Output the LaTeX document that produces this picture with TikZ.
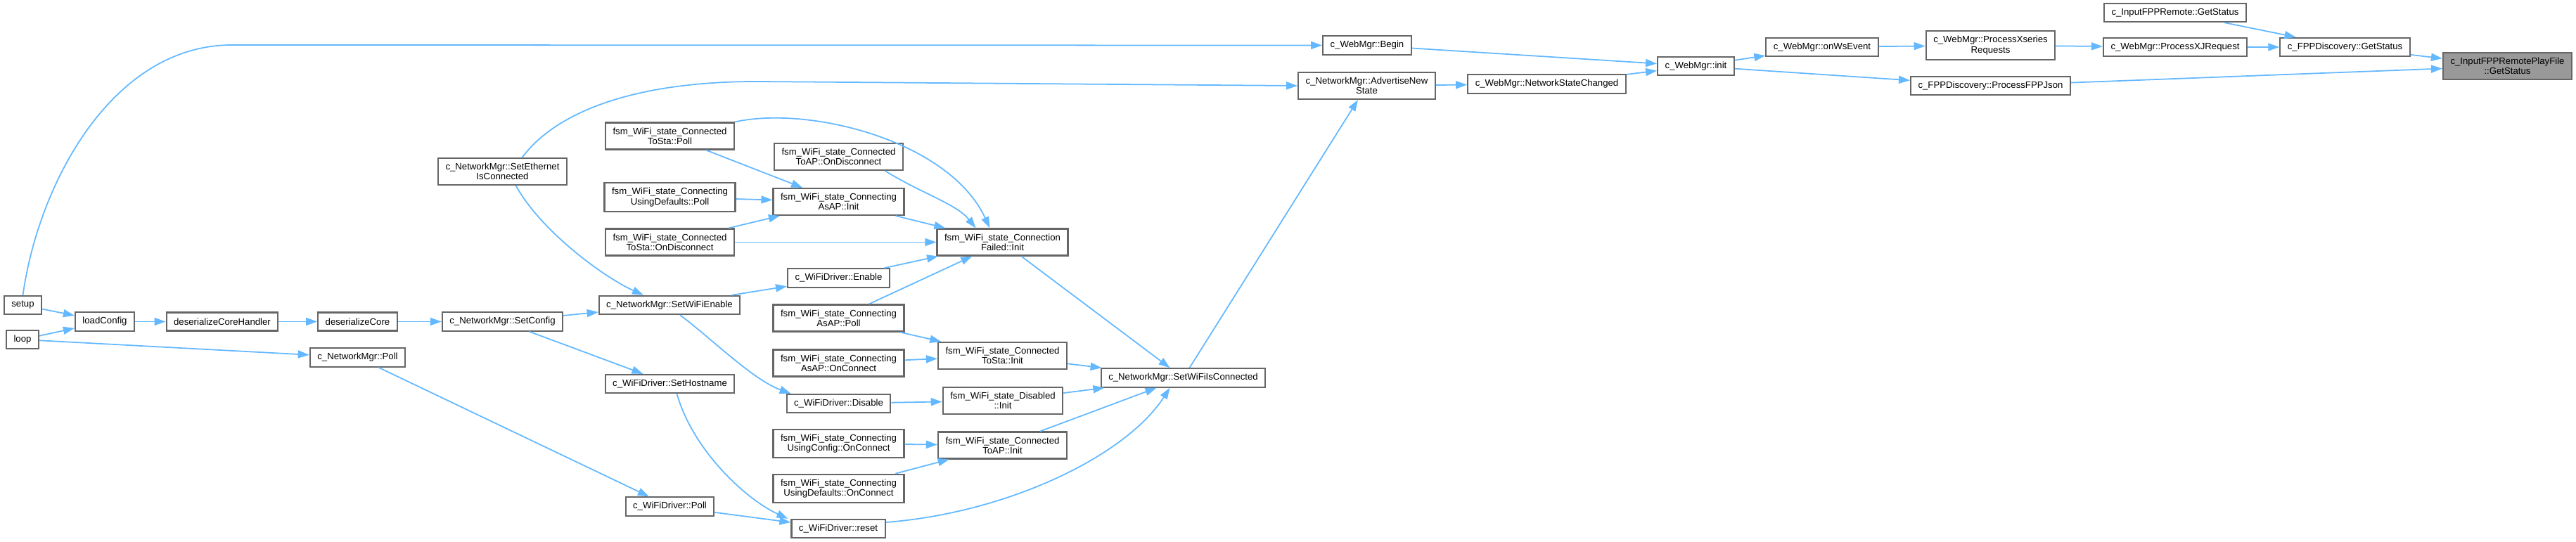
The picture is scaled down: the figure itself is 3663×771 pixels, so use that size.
\documentclass[tikz,border=0pt]{standalone}
\usepackage{fontspec}
\newfontfamily\graphfont{Liberation Sans}
\usepackage{tikz}
\usetikzlibrary{arrows.meta}
\definecolor{edgeblue}{HTML}{63B8FF}
\definecolor{boxgray}{HTML}{666666}
\definecolor{hitgray}{HTML}{999999}
\tikzset{
  fn/.style={draw=boxgray, line width=0.6pt, fill=white, inner xsep=0.105cm, inner ysep=0.07cm,
    minimum height=0.26cm, align=center, font={\graphfont\fontsize{3.75}{4.05}\selectfont}},
  hit/.style={fn, fill=hitgray},
  call/.style={draw=edgeblue, line width=0.5pt, -{Triangle[length=0.16cm,width=0.11cm]}}
}

\begin{document}
\begin{tikzpicture}[x=0.01cm,y=-0.01cm]
\useasboundingbox (0,0) rectangle (3663,771);
%nodes
\node[fn] (setup) at (32.5,434) {setup};
\node[fn] (loop) at (32,483) {loop};
\node[fn] (lcfg) at (149,457.5) {loadConfig};
\node[fn] (dch) at (316,457.5) {deserializeCoreHandler};
\node[fn] (dc) at (508.5,457.5) {deserializeCore};
\node[fn] (npoll) at (508.5,508.5) {c\_NetworkMgr::Poll};
\node[fn] (scfg) at (714.5,457.5) {c\_NetworkMgr::SetConfig};
\node[fn] (seteth) at (714.5,244) {c\_NetworkMgr::SetEthernet\\IsConnected};
\node[fn] (stapoll) at (952.5,193.5) {fsm\_WiFi\_state\_Connected\\ToSta::Poll};
\node[fn] (udpoll) at (952.5,280.5) {fsm\_WiFi\_state\_Connecting\\UsingDefaults::Poll};
\node[fn] (stadisc) at (952.5,344.5) {fsm\_WiFi\_state\_Connected\\ToSta::OnDisconnect};
\node[fn] (wifien) at (952,434) {c\_NetworkMgr::SetWiFiEnable};
\node[fn] (host) at (952.5,546) {c\_WiFiDriver::SetHostname};
\node[fn] (dpoll) at (952.5,720.5) {c\_WiFiDriver::Poll};
\node[fn] (apdisc) at (1192.5,223) {fsm\_WiFi\_state\_Connected\\ToAP::OnDisconnect};
\node[fn] (asapinit) at (1192.5,287) {fsm\_WiFi\_state\_Connecting\\AsAP::Init};
\node[fn] (enable) at (1192.5,395.5) {c\_WiFiDriver::Enable};
\node[fn] (asappoll) at (1192.5,452.5) {fsm\_WiFi\_state\_Connecting\\AsAP::Poll};
\node[fn] (asapconn) at (1192.5,516.5) {fsm\_WiFi\_state\_Connecting\\AsAP::OnConnect};
\node[fn] (disable) at (1192.5,574) {c\_WiFiDriver::Disable};
\node[fn] (ucconn) at (1192.5,631) {fsm\_WiFi\_state\_Connecting\\UsingConfig::OnConnect};
\node[fn] (udconn) at (1192.5,695) {fsm\_WiFi\_state\_Connecting\\UsingDefaults::OnConnect};
\node[fn] (reset) at (1192,752) {c\_WiFiDriver::reset};
\node[fn] (cfail) at (1425.5,344.5) {fsm\_WiFi\_state\_Connection\\Failed::Init};
\node[fn] (stainit) at (1425.5,506) {fsm\_WiFi\_state\_Connected\\ToSta::Init};
\node[fn] (disinit) at (1426,570) {fsm\_WiFi\_state\_Disabled\\::Init};
\node[fn] (apinit) at (1425.5,633.5) {fsm\_WiFi\_state\_Connected\\ToAP::Init};
\node[fn] (wificon) at (1682.5,537.5) {c\_NetworkMgr::SetWiFiIsConnected};
\node[fn] (begin) at (1944,64.5) {c\_WebMgr::Begin};
\node[fn] (adv) at (1943.5,122) {c\_NetworkMgr::AdvertiseNew\\State};
\node[fn] (nsc) at (2199.5,119.5) {c\_WebMgr::NetworkStateChanged};
\node[fn] (winit) at (2411.5,94) {c\_WebMgr::init};
\node[fn] (wsev) at (2591,67) {c\_WebMgr::onWsEvent};
\node[fn] (xser) at (2830.5,64.5) {c\_WebMgr::ProcessXseries\\Requests};
\node[fn] (fppjson) at (2830.5,122) {c\_FPPDiscovery::ProcessFPPJson};
\node[fn] (remstat) at (3093,18) {c\_InputFPPRemote::GetStatus};
\node[fn] (xjreq) at (3093,67) {c\_WebMgr::ProcessXJRequest};
\node[fn] (discstat) at (3334.5,67) {c\_FPPDiscovery::GetStatus};
\node[hit] (playstat) at (3565.5,94) {c\_InputFPPRemotePlayFile\\::GetStatus};
%edges
\draw[call] (remstat) -- (discstat);
\draw[call] (xjreq) -- (discstat);
\draw[call] (discstat) -- (playstat);
\draw[call] (fppjson) -- (playstat);
\draw[call] (xser) -- (xjreq);
\draw[call] (wsev) -- (xser);
\draw[call] (winit) -- (wsev);
\draw[call] (winit) -- (fppjson);
\draw[call] (begin) -- (winit);
\draw[call] (nsc) -- (winit);
\draw[call] (adv) -- (nsc);
\draw[call] (setup.north) .. controls (55,260) and (160,64) .. (330,64) -- (begin.west);
\draw[call] ([xshift=0.28cm]seteth.north) .. controls (790,160) and (900,116) .. (1076,116) -- (adv.west);
\draw[call] (wificon) -- (adv);
\draw[call] (cfail) -- (wificon);
\draw[call] (stainit) -- (wificon);
\draw[call] (disinit) -- (wificon);
\draw[call] (apinit) -- (wificon);
\draw[call] ([yshift=0.09cm]reset.east) .. controls (1430,730) and (1600,650) .. ([xshift=-0.19cm]wificon.south);
\draw[call] (asappoll) -- (stainit);
\draw[call] (asapconn) -- (stainit);
\draw[call] (disable) -- (disinit);
\draw[call] (ucconn) -- (apinit);
\draw[call] (udconn) -- (apinit);
\draw[call] (dpoll) -- (reset);
\draw[call] ([xshift=0.1cm]host.south) .. controls (985,640) and (1060,710) .. ([xshift=-0.04cm]reset.north west);
\draw[call] (wifien) -- (enable);
\draw[call] ([xshift=0.15cm]wifien.south) .. controls (1010,480) and (1070,540) .. ([xshift=0.07cm]disable.north west);
\draw[call] (enable) -- (cfail);
\draw[call] (asappoll) -- (cfail);
\draw[call] (stadisc) -- (cfail);
\draw[call] (asapinit) -- (cfail);
\draw[call] ([xshift=0.66cm]apdisc.south) .. controls (1310,275) and (1360,290) .. ([xshift=-0.38cm]cfail.north);
\draw[call] (stapoll.north east) .. controls (1150,150) and (1350,200) .. ([xshift=-0.18cm]cfail.north);
\draw[call] (stapoll) -- (asapinit);
\draw[call] (udpoll) -- (asapinit);
\draw[call] (stadisc) -- (asapinit);
\draw[call] ([xshift=0.19cm]seteth.south) .. controls (770,330) and (860,395) .. ([xshift=-0.37cm]wifien.north);
\draw[call] (scfg) -- (wifien);
\draw[call] (scfg) -- (host);
\draw[call] (dc) -- (scfg);
\draw[call] (dch) -- (dc);
\draw[call] (lcfg) -- (dch);
\draw[call] (setup) -- (lcfg);
\draw[call] (loop) -- (lcfg);
\draw[call] (loop) -- (npoll);
\draw[call] (npoll) -- (dpoll);
\end{tikzpicture}
\end{document}
